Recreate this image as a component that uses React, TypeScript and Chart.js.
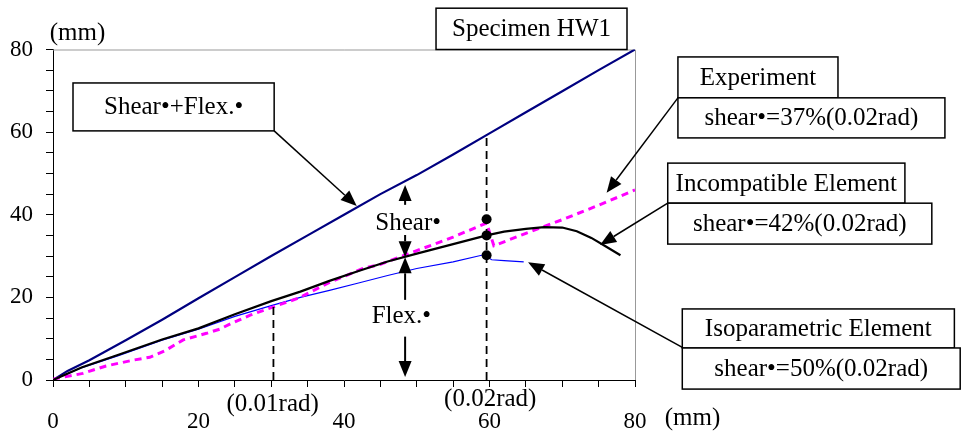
import React, { useEffect, useRef } from "react";
import { Chart, registerables } from "chart.js";

Chart.register(...registerables);

// ---------- data ----------
const shearFlexX = [0, 2, 5, 10, 15, 20, 25, 30, 35, 40, 45, 50, 55, 60, 65, 70, 75, 80];
const shearFlexY = [0, 2.2, 4.8, 9.6, 14.6, 19.8, 24.9, 30.0, 35.0, 40.0, 45.0, 49.6, 54.6, 59.7, 64.8, 69.9, 75.0, 80.0];

const incompatX = [0, 4, 9, 15, 20, 25, 30, 34, 38, 42, 46, 50, 55, 59.6, 62, 65, 67.5, 70, 72, 74, 76, 78];
const incompatY = [0, 3.1, 6.1, 9.8, 12.5, 15.9, 19.1, 21.4, 24.0, 26.4, 28.7, 30.6, 32.9, 35.0, 35.9, 36.6, 37.0, 36.9, 36.0, 34.4, 32.3, 30.2];

const isoX = [0, 4, 9, 15, 20, 25, 30, 34, 38, 42, 46, 50, 55, 59.2, 60.3, 62, 64.7];
const isoY = [0, 3.0, 5.9, 9.6, 12.3, 15.4, 18.0, 20.0, 21.7, 23.5, 25.3, 27.0, 28.6, 30.3, 29.1, 28.9, 28.6];

const experimentX = [0, 4.1, 7.3, 11, 13.3, 15.4, 17.9, 21.1, 22.9, 24.5, 27.1, 30.3, 33.7, 38, 42.6, 45, 50, 55, 59.6, 60.6, 65, 70, 75, 80];
const experimentY = [0.2, 1.6, 3.4, 4.8, 5.5, 7.1, 9.7, 11.3, 12.3, 13.7, 15.7, 17.7, 19.8, 23.6, 27.0, 28.0, 31.3, 34.6, 38.0, 32.5, 35.5, 38.8, 42.3, 46.0];

// reference drift lines (0.01 rad and 0.02 rad)
const guide01X = [30.3, 30.3];
const guide01Y = [0, 17.8];
const guide02X = [59.6, 59.6];
const guide02Y = [0, 59.7];

// marker dots at 0.02 rad
const dotX = [59.6, 59.6, 59.6];
const dotY = [38.9, 35.0, 30.2];

// axis ticks
const axisMin = 0;
const axisMax = 80;
const tickStep = 5;
const tickLabelValues = [0, 20, 40, 60, 80];

// ---------- annotation layout (in data units) ----------
const boxes = [
  { x1: 2.75, y1: 71.9, x2: 30.4, y2: 60.3, text: "Shear•+Flex.•" },
  { x1: 52.65, y1: 90.0, x2: 78.9, y2: 80.0, text: "Specimen HW1" },
  { x1: 85.9, y1: 78.2, x2: 107.9, y2: 68.3, text: "Experiment" },
  { x1: 85.9, y1: 68.3, x2: 122.6, y2: 58.6, text: "shear•=37%(0.02rad)" },
  { x1: 84.5, y1: 52.5, x2: 117.1, y2: 42.8, text: "Incompatible Element" },
  { x1: 84.5, y1: 42.8, x2: 120.8, y2: 32.9, text: "shear•=42%(0.02rad)" },
  { x1: 86.5, y1: 17.2, x2: 123.9, y2: 7.75, text: "Isoparametric Element" },
  { x1: 86.5, y1: 7.75, x2: 124.7, y2: -2.2, text: "shear•=50%(0.02rad)" },
];

const leaders = [
  { fx: 30.4, fy: 60.3, tx: 41.75, ty: 42.1 },
  { fx: 85.9, fy: 68.3, tx: 76.1, ty: 45.3 },
  { fx: 84.5, fy: 42.8, tx: 75.2, ty: 32.7 },
  { fx: 86.5, fy: 7.9, tx: 65.3, ty: 28.5 },
];

const dimArrows = [
  { x: 48.4, from: 42.4, to: 47.2 },
  { x: 48.4, from: 35.1, to: 29.7 },
  { x: 48.4, from: 19.4, to: 29.7 },
  { x: 48.4, from: 10.5, to: 0.7 },
];

const freeTexts = [
  { x: 44.3, y: 37.8, text: "Shear•", align: "left" },
  { x: 43.8, y: 15.3, text: "Flex.•", align: "left" },
  { x: 3.37, y: 83.8, text: "(mm)", align: "center" },
  { x: 87.9, y: -9.2, text: "(mm)", align: "center" },
  { x: 30.2, y: -5.8, text: "(0.01rad)", align: "center" },
  { x: 60.1, y: -4.6, text: "(0.02rad)", align: "center" },
];

const FONT = "'Liberation Serif', 'Times New Roman', serif";

const zip = (xs: number[], ys: number[]) => xs.map((x, i) => ({ x, y: ys[i] }));

function drawArrow(ctx: CanvasRenderingContext2D, fx: number, fy: number, tx: number, ty: number) {
  const headLen = 16;
  const headW = 6.5;
  const ang = Math.atan2(ty - fy, tx - fx);
  const bx = tx - headLen * Math.cos(ang);
  const by = ty - headLen * Math.sin(ang);
  ctx.beginPath();
  ctx.moveTo(fx, fy);
  ctx.lineTo(bx, by);
  ctx.stroke();
  ctx.beginPath();
  ctx.moveTo(tx, ty);
  ctx.lineTo(bx + headW * Math.sin(ang), by - headW * Math.cos(ang));
  ctx.lineTo(bx - headW * Math.sin(ang), by + headW * Math.cos(ang));
  ctx.closePath();
  ctx.fill();
}

const annotationPlugin = {
  id: "annotations",
  beforeDatasetsDraw(chart: any) {
    const { ctx, chartArea } = chart;
    ctx.save();
    ctx.strokeStyle = "#999999";
    ctx.lineWidth = 1;
    ctx.beginPath();
    ctx.moveTo(chartArea.left, chartArea.top + 0.5);
    ctx.lineTo(chartArea.right + 0.5, chartArea.top + 0.5);
    ctx.lineTo(chartArea.right + 0.5, chartArea.bottom);
    ctx.stroke();
    ctx.restore();
  },
  afterDraw(chart: any) {
    const { ctx } = chart;
    const xs = chart.scales.x;
    const ys = chart.scales.y;
    const px = (v: number) => xs.getPixelForValue(v);
    const py = (v: number) => ys.getPixelForValue(v);
    ctx.save();
    ctx.font = `25px ${FONT}`;
    ctx.textBaseline = "middle";
    ctx.fillStyle = "#000";
    ctx.strokeStyle = "#000";

    // boxes
    ctx.lineWidth = 1.5;
    for (const b of boxes) {
      const x1 = px(b.x1), y1 = py(b.y1), x2 = px(b.x2), y2 = py(b.y2);
      ctx.fillStyle = "#fff";
      ctx.fillRect(x1, y1, x2 - x1, y2 - y1);
      ctx.strokeRect(x1, y1, x2 - x1, y2 - y1);
      ctx.fillStyle = "#000";
      ctx.textAlign = "center";
      ctx.fillText(b.text, (x1 + x2) / 2, (y1 + y2) / 2 + 1);
    }

    // leader arrows
    ctx.lineWidth = 1.5;
    for (const l of leaders) {
      drawArrow(ctx, px(l.fx), py(l.fy), px(l.tx), py(l.ty));
    }
    ctx.lineWidth = 2;
    for (const d of dimArrows) {
      drawArrow(ctx, px(d.x), py(d.from), px(d.x), py(d.to));
    }

    // free texts
    for (const t of freeTexts) {
      ctx.textAlign = t.align as CanvasTextAlign;
      ctx.fillText(t.text, px(t.x), py(t.y));
    }
    ctx.restore();
  },
};

export default function App() {
  const ref = useRef<HTMLCanvasElement>(null);

  useEffect(() => {
    if (!ref.current) return;
    const lineDs = (label: string, xs: number[], ys: number[], color: string, width: number, dash: number[] = []) => ({
      label,
      data: zip(xs, ys),
      borderColor: color,
      backgroundColor: color,
      borderWidth: width,
      borderDash: dash,
      pointRadius: 0,
      tension: 0,
      fill: false,
    });

    const tickOpts = (padding: number) => ({
      stepSize: tickStep,
      autoSkip: false,
      maxRotation: 0,
      padding,
      color: "#000",
      font: { family: FONT, size: 23 },
      callback: (v: any) => (tickLabelValues.includes(Number(v)) ? String(v) : ""),
    });

    const chart = new Chart(ref.current, {
      type: "line",
      data: {
        datasets: [
          {
            label: "dots",
            data: zip(dotX, dotY),
            showLine: false,
            pointRadius: 5,
            pointBorderWidth: 0,
            pointBackgroundColor: "#000",
            pointBorderColor: "#000",
            borderColor: "#000",
          } as any,
          lineDs("0.01rad", guide01X, guide01Y, "#000", 1.8, [8, 5]),
          lineDs("0.02rad", guide02X, guide02Y, "#000", 1.8, [8, 5]),
          lineDs("Incompatible Element", incompatX, incompatY, "#000000", 2.2),
          lineDs("Experiment", experimentX, experimentY, "#FF00FF", 3, [7, 5]),
          lineDs("Isoparametric Element", isoX, isoY, "#0000FF", 1.1),
          lineDs("Shear+Flex.", shearFlexX, shearFlexY, "#000080", 2.2),
        ],
      },
      options: {
        animation: false,
        responsive: false,
        parsing: true,
        layout: { padding: { left: 0, right: 332, top: 49.5, bottom: 0 } },
        plugins: { legend: { display: false }, tooltip: { enabled: false }, title: { display: false } },
        scales: {
          x: {
            type: "linear",
            min: axisMin,
            max: axisMax,
            grid: { display: true, drawOnChartArea: false, drawTicks: true, tickLength: 7, color: "#000", lineWidth: 1 },
            border: { display: true, color: "#000", width: 1 },
            ticks: tickOpts(21) as any,
            afterFit: (s: any) => {
              s.height = 55;
            },
          },
          y: {
            type: "linear",
            min: axisMin,
            max: axisMax,
            grid: { display: true, drawOnChartArea: false, drawTicks: true, tickLength: 7, color: "#000", lineWidth: 1 },
            border: { display: true, color: "#000", width: 1 },
            ticks: tickOpts(13) as any,
            afterFit: (s: any) => {
              s.width = 53;
            },
          },
        },
      },
      plugins: [annotationPlugin],
    });
    return () => chart.destroy();
  }, []);

  return (
    <div style={{ position: "absolute", left: 0, top: 0, width: 967, height: 435, background: "#fff" }}>
      <canvas ref={ref} width={967} height={435} style={{ display: "block", width: 967, height: 435 }} />
    </div>
  );
}
